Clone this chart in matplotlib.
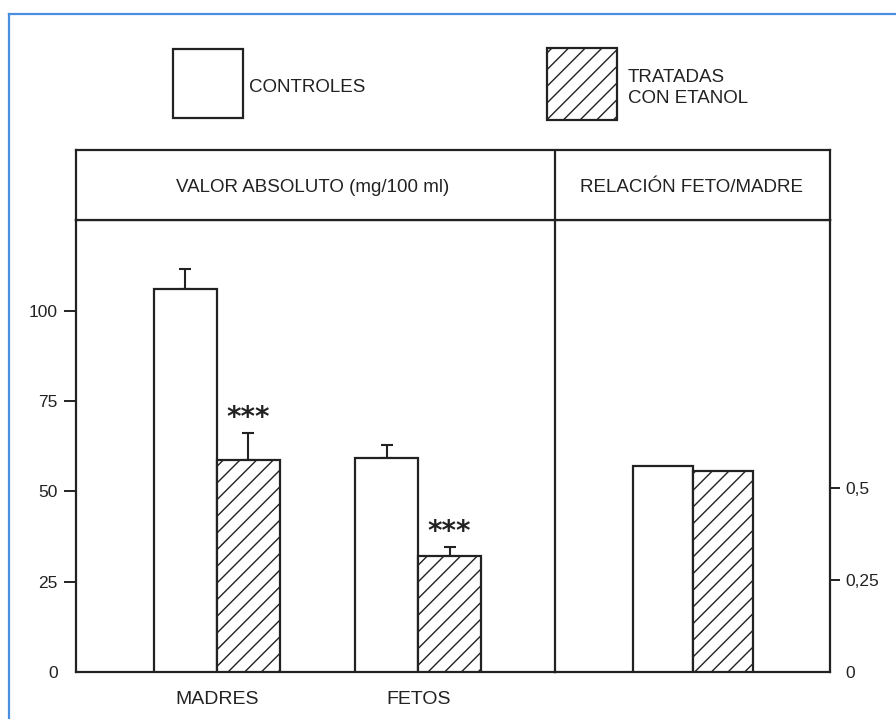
import numpy as np
import matplotlib
matplotlib.use('Agg')
import matplotlib.pyplot as plt
from matplotlib.patches import Rectangle
from matplotlib.lines import Line2D

plt.rcParams['font.family'] = ['Liberation Sans', 'DejaVu Sans']
plt.rcParams['hatch.linewidth'] = 1.0
plt.rcParams['hatch.color'] = '#222222'

# valores absolutos (mg/100 ml) y relación feto/madre
categorias = ['MADRES', 'FETOS']
controles = [106, 59.3]
controles_err = [5.5, 3.6]
tratadas = [58.7, 32.1]
tratadas_err = [7.5, 2.5]
relacion = [0.56, 0.546]   # controles, tratadas
ticks_abs = [0, 25, 50, 75, 100]
ticks_rel = [0, 0.25, 0.5]
ticks_rel_txt = ['0', '0,25', '0,5']
signif = ['***', '***']

INK = '#222222'
W, H = 896, 719
fig = plt.figure(figsize=(W / 100, H / 100), dpi=100)
fig.patch.set_facecolor('white')

def fx(px):
    return px / W

def fy(py):
    return 1 - py / H

# marco azul
fig.add_artist(Line2D([fx(9), 1], [fy(14), fy(14)], color='#4a8fdf', lw=1.6))
fig.add_artist(Line2D([fx(9), fx(9)], [fy(14), 0], color='#4a8fdf', lw=1.6))

ax = fig.add_axes([fx(76), fy(672), fx(555) - fx(76), fy(220) - fy(672)])
ax2 = fig.add_axes([fx(555), fy(672), fx(830) - fx(555), fy(220) - fy(672)])
ax2.patch.set_visible(False)
hdr = fig.add_axes([fx(76), fy(220), fx(830) - fx(76), fy(150) - fy(220)])

bw = 0.313
x = np.arange(len(categorias))
ax.bar(x - bw / 2, controles, bw, color='white', edgecolor=INK, lw=1.6, zorder=3)
ax.bar(x + bw / 2, tratadas, bw, color='white', edgecolor=INK, lw=1.6,
       hatch='//', zorder=3)
ax.errorbar(x - bw / 2, controles, yerr=[np.zeros(2), controles_err], fmt='none',
            ecolor=INK, elinewidth=1.5, capsize=4, capthick=1.5, zorder=2)
ax.errorbar(x + bw / 2, tratadas, yerr=[np.zeros(2), tratadas_err], fmt='none',
            ecolor=INK, elinewidth=1.5, capsize=4, capthick=1.5, zorder=2)
for xi, v, e, s in zip(x, tratadas, tratadas_err, signif):
    ax.text(xi + bw / 2, v + e + 0.3, s, ha='center', va='bottom', fontsize=20,
            family='DejaVu Sans', color=INK, fontweight='bold')

ax.set_xlim(-0.70, 1.68)
ax.set_ylim(0, 125.2)
ax.set_yticks(ticks_abs)
ax.set_yticklabels([str(t) for t in ticks_abs])
ax.set_xticks(x)
ax.set_xticklabels(categorias, fontsize=14)
ax.tick_params(axis='x', length=0, pad=14, colors=INK)
ax.tick_params(axis='y', length=9, width=1.4, pad=4, labelsize=12.5, colors=INK)
ax.yaxis.get_major_ticks()[0].tick1line.set_visible(False)
for sp in ax.spines.values():
    sp.set_linewidth(1.6)
    sp.set_color(INK)

# relación feto/madre
bw2 = 0.30
ax2.bar([-bw2 / 2], [relacion[0]], bw2, color='white', edgecolor=INK, lw=1.6, zorder=3)
ax2.bar([bw2 / 2], [relacion[1]], bw2, color='white', edgecolor=INK, lw=1.6,
        hatch='//', zorder=3)
ax2.set_xlim(-0.687, 0.682)
ax2.set_ylim(0, 1.228)
ax2.set_xticks([])
ax2.yaxis.tick_right()
ax2.set_yticks(ticks_rel)
ax2.set_yticklabels(ticks_rel_txt)
ax2.tick_params(axis='y', length=7, width=1.4, pad=4, labelsize=12.5, colors=INK)
ax2.yaxis.get_major_ticks()[0].tick2line.set_visible(False)
ax2.spines['left'].set_visible(False)
for sp in ['right', 'bottom', 'top']:
    ax2.spines[sp].set_linewidth(1.6)
    ax2.spines[sp].set_color(INK)

# cabecera
hdr.set_xlim(76, 830)
hdr.set_ylim(0, 1)
hdr.set_xticks([])
hdr.set_yticks([])
for sp in hdr.spines.values():
    sp.set_linewidth(1.6)
    sp.set_color(INK)
hdr.axvline(555, color=INK, lw=1.6)
hdr.text(313, 0.47, 'VALOR ABSOLUTO (mg/100 ml)', ha='center', va='center',
         fontsize=13.5, color=INK)
hdr.text(691, 0.47, 'RELACIÓN FETO/MADRE', ha='center', va='center',
         fontsize=13.5, color=INK)

# leyenda
fig.add_artist(Rectangle((fx(173), fy(118)), fx(243) - fx(173), fy(49) - fy(118),
                         facecolor='white', edgecolor=INK, lw=1.6))
fig.text(fx(249), fy(88), 'CONTROLES', ha='left', va='center', fontsize=13.5, color=INK)
fig.add_artist(Rectangle((fx(547), fy(120)), fx(617) - fx(547), fy(48) - fy(120),
                         facecolor='white', edgecolor=INK, lw=1.6, hatch='//'))
fig.text(fx(628), fy(88), 'TRATADAS\nCON ETANOL', ha='left', va='center',
         fontsize=13.5, color=INK, linespacing=1.35)

fig.savefig('out.png', dpi=100, facecolor='white')
